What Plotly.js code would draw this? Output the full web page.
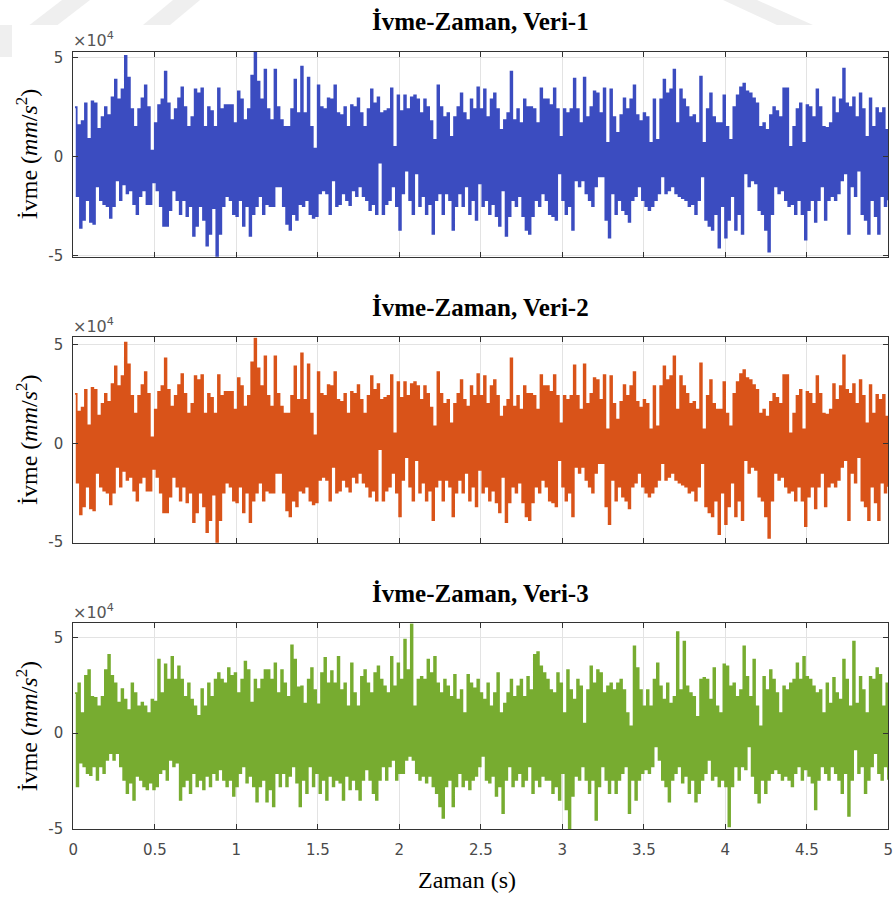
<!DOCTYPE html>
<html><head><meta charset="utf-8">
<script src="https://cdn.plot.ly/plotly-3.0.1.min.js"></script>
<style>html,body{margin:0;padding:0;background:#fff}</style>
</head><body><div id="chart" style="width:893px;height:898px"></div>
<script>
const veri1Peaks = [
2.5,1.6,1.8,2.7,0.9,2.8,2.7,1.4,2.0,2.5,
2.1,3.0,3.9,2.9,3.4,5.1,4.0,2.4,1.5,2.4,
2.95,3.6,2.5,0.3,1.7,2.6,2.9,4.3,2.7,1.85,
2.4,2.95,3.5,2.5,1.5,2.0,3.4,3.2,3.45,1.5,
2.5,2.3,1.5,3.45,2.4,2.6,2.6,2.6,1.7,3.3,
2.9,1.85,2.4,4.1,5.3,3.8,2.9,4.4,2.4,1.85,
4.4,2.5,1.85,1.5,1.5,2.4,3.9,2.2,
4.55,2.2,4.0,1.5,0.4,3.6,2.5,2.4,2.95,2.9,
3.6,2.2,2.1,2.5,1.5,2.6,2.5,2.95,2.2,1.5,
2.4,3.4,2.7,3.0,2.2,2.3,2.4,3.45,0.5,3.1,
2.3,3.1,2.4,3.0,3.1,2.9,2.2,2.9,2.5,1.8,
0.85,3.6,2.5,2.0,2.2,1.0,2.0,2.5,3.2,2.2,
1.85,2.9,2.4,3.5,2.4,3.4,2.0,2.9,3.2,2.4,
1.35,1.85,2.2,4.3,1.85,2.4,1.7,2.9,2.5,2.5,
2.4,1.7,3.45,2.9,2.9,2.6,3.45,2.4,1.0,2.4,
2.2,2.4,3.95,2.4,1.7,4.0,2.0,2.5,3.3,3.2,
2.2,3.45,0.7,3.4,2.0,1.2,2.1,2.95,2.4,2.9,
3.6,2.1,1.8,2.2,2.0,0.7,2.9,0.85,2.9,3.9,
3.2,3.4,4.4,1.7,3.4,2.9,2.5,2.0,2.1,1.7,
4.05,0.7,2.4,3.2,2.0,1.7,1.7,3.1,1.5,0.85,
2.5,3.1,3.5,3.7,3.3,3.2,2.95,2.7,1.5,1.7,
1.35,2.1,2.5,2.3,2.0,3.45,3.45,0.5,1.5,2.4,
2.7,0.7,2.6,2.5,2.0,3.4,2.5,1.5,1.45,1.7,
3.0,2.2,2.9,4.45,2.7,2.5,3.0,2.0,3.2,2.4,
1.0,2.95,1.5,2.45,2.2,2.45,1.35
];
const veri1Troughs = [
-2.0,-3.6,-3.2,-2.2,-3.3,-3.4,-1.5,-2.2,-2.4,-2.5,
-3.1,-2.5,-1.2,-2.2,-1.4,-1.85,-1.7,-2.4,-2.9,-2.0,
-1.7,-2.4,-2.4,-1.3,-1.7,-2.5,-3.5,-3.5,-2.7,-1.7,
-2.2,-2.9,-2.2,-3.0,-2.5,-4.0,-3.5,-2.5,-3.2,-4.5,
-3.9,-2.6,-5.05,-3.9,-2.5,-2.0,-2.2,-2.9,-3.0,-2.2,
-3.5,-2.5,-4.0,-2.9,-2.5,-2.0,-2.9,-2.4,-2.5,-2.5,
-1.5,-1.5,-2.5,-3.4,-3.7,-2.9,-3.2,-2.4,
-2.5,-2.2,-2.9,-3.1,-3.0,-1.85,-1.7,-1.85,-2.9,-1.2,
-2.5,-2.4,-1.85,-2.2,-2.45,-1.7,-2.0,-1.5,-2.0,-2.2,
-2.7,-2.4,-2.9,-0.3,-2.9,-2.4,-2.2,-1.5,-2.5,-3.7,
-1.85,-0.7,-2.2,-2.9,-0.85,-2.5,-2.0,-2.9,-2.4,-3.9,
-2.2,-1.85,-2.9,-1.85,-2.2,-3.7,-2.5,-1.85,-2.5,-1.5,
-2.9,-2.2,-3.2,-1.35,-2.5,-2.2,-2.9,-2.4,-3.0,-3.5,
-1.7,-4.0,-3.0,-2.2,-2.5,-2.0,-3.0,-3.7,-3.9,-3.0,
-2.2,-2.5,-1.85,-2.2,-2.9,-3.0,-3.2,-0.85,-2.2,-2.9,
-2.5,-3.7,-1.2,-1.5,-1.2,-1.85,-2.2,-2.5,-1.5,-1.0,
-1.0,-3.2,-4.1,-1.85,-2.9,-2.2,-2.7,-2.9,-3.3,-2.2,
-2.0,-1.5,-2.2,-2.5,-2.7,-2.5,-2.2,-1.85,-1.0,-1.85,
-1.7,-1.5,-1.85,-2.0,-2.1,-2.2,-2.5,-2.4,-2.9,-2.2,
-1.0,-3.2,-3.5,-3.7,-2.9,-4.6,-2.5,-4.1,-3.2,-2.0,
-3.7,-2.9,-3.9,-0.85,-1.5,-1.2,-1.35,-2.7,-2.9,-3.7,
-4.8,-2.9,-1.5,-1.85,-1.7,-2.2,-2.5,-2.4,-2.9,-2.2,
-2.9,-4.2,-2.7,-2.2,-3.3,-2.2,-1.5,-3.2,-2.2,-2.0,
-2.2,-1.85,-1.2,-0.85,-3.9,-1.5,-2.0,-0.7,-2.9,-3.2,
-3.9,-2.2,-3.0,-3.9,-2.0,-2.5,-2.2
];
// Veri-2 reads the same as Veri-1 in the picture
const veri2Peaks = veri1Peaks.slice();
const veri2Troughs = veri1Troughs.slice();
const veri3Peaks = [
2.1,2.6,1.05,3.0,3.3,1.9,1.85,1.4,1.9,3.3,
4.1,3.0,2.6,1.6,2.3,1.75,1.2,2.6,2.1,1.4,
1.6,1.4,1.05,1.75,1.65,3.85,2.1,3.6,2.8,4.0,
2.8,3.5,2.8,1.9,2.6,1.75,1.4,0.9,2.3,1.4,
2.6,1.9,2.8,3.15,2.8,2.6,3.4,3.0,3.15,2.1,
2.8,3.75,3.3,1.6,2.8,2.3,2.8,3.3,3.3,2.8,
3.65,2.1,3.3,2.6,1.9,4.6,3.85,2.4,
2.45,1.55,2.8,3.4,2.25,1.5,3.15,3.95,2.6,3.25,
2.6,4.0,2.25,2.6,1.4,3.65,2.1,1.4,2.95,3.3,
2.6,2.1,3.15,3.5,2.8,2.45,2.1,4.0,2.45,3.65,
2.8,4.9,3.3,5.7,1.4,2.8,2.95,2.8,3.85,3.15,
4.0,2.6,2.1,2.8,2.45,1.9,3.05,1.75,2.25,1.05,
3.05,2.6,2.35,2.8,2.1,1.75,2.6,1.4,2.1,3.15,
1.05,1.55,2.1,2.8,1.9,2.45,2.8,1.9,2.95,2.25,
4.1,4.25,3.5,3.15,2.8,2.25,2.1,3.15,2.6,1.05,
3.3,2.25,1.75,2.8,2.45,0.5,2.25,3.5,2.6,3.3,
3.15,2.1,2.45,2.6,2.25,2.6,2.8,2.25,1.05,0.35,
4.55,3.4,2.25,1.4,2.25,1.4,2.8,3.65,2.45,1.75,
2.6,1.55,1.9,5.3,2.25,4.8,2.45,2.1,1.9,0.85,
2.8,2.9,2.8,1.75,3.4,1.4,1.05,3.6,3.5,2.45,
2.6,1.9,2.25,4.55,2.95,1.9,3.85,1.4,0.35,2.95,
2.25,3.3,2.8,2.1,1.05,2.45,2.25,2.6,2.8,3.65,
2.8,4.0,2.95,2.8,2.45,2.1,2.25,1.05,2.6,1.55,
2.9,2.1,1.75,3.85,2.8,1.4,4.8,1.55,2.95,2.25,
1.05,2.95,2.8,3.4,3.05,1.4,2.6
];
const veri3Troughs = [
-2.8,-1.55,-1.75,-2.1,-2.2,-1.75,-2.45,-1.75,-2.1,-1.4,
-1.05,-1.4,-1.05,-1.75,-2.45,-3.15,-2.6,-3.5,-2.25,-2.45,
-2.8,-2.95,-2.6,-2.95,-2.8,-2.1,-1.9,-2.45,-1.4,-1.75,
-1.55,-3.5,-2.8,-2.45,-3.15,-2.1,-2.8,-2.45,-2.95,-2.25,
-2.8,-2.1,-2.45,-1.9,-2.45,-2.8,-2.45,-3.3,-2.8,-2.1,
-1.75,-2.6,-2.25,-2.8,-3.6,-2.8,-2.45,-3.6,-2.95,-3.85,
-2.1,-2.8,-2.1,-2.8,-2.25,-1.75,-2.6,-3.85,
-2.45,-3.15,-1.75,-2.8,-2.1,-3.15,-2.45,-3.5,-2.25,-2.8,
-2.45,-2.6,-3.5,-2.25,-2.95,-2.45,-2.95,-3.5,-2.45,-1.9,
-2.45,-3.15,-3.5,-2.45,-1.75,-2.45,-1.75,-1.4,-2.45,-2.1,
-2.1,-1.4,-1.2,-1.4,-2.1,-2.45,-2.25,-2.6,-2.25,-2.8,
-3.15,-3.85,-4.45,-2.8,-2.45,-3.85,-2.8,-2.1,-2.8,-2.45,
-2.95,-2.45,-2.25,-1.75,-1.2,-2.45,-2.6,-2.25,-3.3,-2.8,
-4.2,-2.45,-1.75,-2.8,-2.45,-2.1,-2.8,-2.45,-1.75,-3.15,
-2.45,-2.8,-2.25,-2.45,-2.45,-3.15,-2.8,-3.5,-2.1,-4.0,
-5.05,-3.3,-2.25,-2.45,-1.75,-2.45,-3.15,-2.45,-4.55,-2.8,
-1.75,-2.45,-3.15,-2.45,-3.15,-2.45,-2.1,-1.75,-4.2,-2.45,
-3.5,-2.45,-2.1,-1.9,-2.1,-1.75,-0.7,-1.4,-2.45,-2.8,
-3.6,-2.45,-2.1,-1.75,-2.6,-2.25,-3.15,-2.45,-3.6,-3.15,
-2.45,-2.1,-1.4,-2.45,-2.25,-2.8,-2.45,-2.8,-4.9,-2.8,
-1.75,-2.45,-1.75,-1.9,-0.7,-2.25,-3.15,-3.65,-2.45,-3.15,
-2.45,-2.1,-1.9,-2.1,-2.45,-2.25,-2.45,-2.8,-2.1,-1.75,
-2.45,-1.9,-2.25,-2.6,-4.0,-2.45,-1.75,-2.1,-2.45,-1.75,
-2.1,-2.45,-3.15,-2.1,-4.35,-2.45,-0.85,-2.1,-1.75,-3.15,
-2.45,-1.75,-1.05,-2.1,-2.45,-1.75,-2.45
];
const panelTitles = ['İvme-Zaman, Veri-1', 'İvme-Zaman, Veri-2', 'İvme-Zaman, Veri-3'];
const seriesColors = ['#3B4CC0', '#D95319', '#77AC30'];
const yTickVals = [-5, 0, 5];
const yTickText = ['-5', '0', '5'];
const xTickVals = [0, 0.5, 1, 1.5, 2, 2.5, 3, 3.5, 4, 4.5, 5];
const xTickText = ['0', '0.5', '1', '1.5', '2', '2.5', '3', '3.5', '4', '4.5', '5'];
const yLabel = 'İvme (<i>mm</i>/<i>s</i><sup>2</sup>)';
const xLabel = 'Zaman (s)';

function interleave(p, t) {
  const out = [];
  const n = Math.min(p.length, t.length);
  for (let i = 0; i < n; i++) { out.push(p[i], t[i]); }
  return out;
}
const series = [
  interleave(veri1Peaks, veri1Troughs),
  interleave(veri2Peaks, veri2Troughs),
  interleave(veri3Peaks, veri3Troughs)
];

const W = 893, H = 898;
const px = x => x / W;
const py = y => 1 - y / H;

const yDomains = [[py(256.7), py(51.7)], [py(542.7), py(337.3)], [py(829.3), py(623.3)]];
const yRanges = [[-5.06, 5.31], [-5.04, 5.37], [-5.05, 5.76]];
const xDomain = [px(73.3), px(888.3)];

const traces = series.map((y, i) => ({
  type: 'scatter', mode: 'lines',
  x0: 0.0104, dx: 0.0102, y: y,
  xaxis: i === 0 ? 'x' : 'x' + (i + 1),
  yaxis: i === 0 ? 'y' : 'y' + (i + 1),
  line: {color: seriesColors[i], width: 1.8, shape: 'hv'},
  hoverinfo: 'skip'
}));

const axisBase = {
  showline: true, linecolor: '#333', linewidth: 1, mirror: 'ticks',
  ticks: 'inside', ticklen: 5, tickwidth: 1, tickcolor: '#333',
  showgrid: true, gridcolor: '#e3e3e3', gridwidth: 1, zeroline: false,
  tickfont: {family: 'DejaVu Sans', size: 15, color: '#4a4a4a'},
  ticklabeloverflow: 'allow',
  fixedrange: true
};

const layout = {
  width: W, height: H,
  margin: {l: 0, r: 0, t: 0, b: 0},
  paper_bgcolor: '#ffffff', plot_bgcolor: '#ffffff',
  showlegend: false,
  annotations: [], shapes: []
};

for (let i = 0; i < 3; i++) {
  const sx = i === 0 ? '' : String(i + 1);
  layout['xaxis' + sx] = Object.assign({}, axisBase, {
    domain: xDomain, range: [0, 5], anchor: 'y' + sx,
    tickmode: 'array', tickvals: xTickVals, ticktext: xTickText,
    showticklabels: i === 2, ticklabelstandoff: 7
  });
  layout['yaxis' + sx] = Object.assign({}, axisBase, {
    domain: yDomains[i], range: yRanges[i], anchor: 'x' + sx,
    tickmode: 'array', tickvals: yTickVals, ticktext: yTickText,
    ticklabelstandoff: 6
  });
  const top = yDomains[i][1];
  const mid = (yDomains[i][0] + yDomains[i][1]) / 2;
  layout.annotations.push({
    xref: 'paper', yref: 'paper', x: px(480), y: top + 30 / H, xanchor: 'center', yanchor: 'middle',
    text: '<b>' + panelTitles[i] + '</b>', showarrow: false,
    font: {family: 'Liberation Serif', size: 25, color: '#000'}
  });
  layout.annotations.push({
    xref: 'paper', yref: 'paper', x: px(71), y: top + 12 / H, xanchor: 'left', yanchor: 'middle',
    text: '×10<sup>4</sup>', showarrow: false,
    font: {family: 'DejaVu Sans', size: 16, color: '#555'}
  });
  layout.annotations.push({
    xref: 'paper', yref: 'paper', x: px(27), y: mid, xanchor: 'center', yanchor: 'middle',
    text: yLabel, textangle: -90, showarrow: false,
    font: {family: 'Liberation Serif', size: 24, color: '#000'}
  });
}
layout.annotations.push({
  xref: 'paper', yref: 'paper', x: px(467), y: py(880), xanchor: 'center', yanchor: 'middle',
  text: xLabel, showarrow: false,
  font: {family: 'Liberation Serif', size: 24, color: '#000'}
});

// faint watermark bands at the top of the page
function poly(pts) {
  return 'M ' + pts.map(p => px(p[0]) + ',' + py(p[1])).join(' L ') + ' Z';
}
const wm = [
  [[62, 0], [90, 0], [57.5, 25], [29.5, 25]],
  [[173, 0], [200, 0], [170, 25], [143, 25]],
  [[723, 0], [757, 0], [813, 25], [777, 25]],
  [[0, 25], [12, 25], [12, 57], [0, 57]]
];
wm.forEach(p => layout.shapes.push({
  type: 'path', xref: 'paper', yref: 'paper', path: poly(p),
  fillcolor: '#efefef', line: {width: 0}, layer: 'below'
}));

Plotly.newPlot('chart', traces, layout, {displayModeBar: false, staticPlot: true});
</script></body></html>
